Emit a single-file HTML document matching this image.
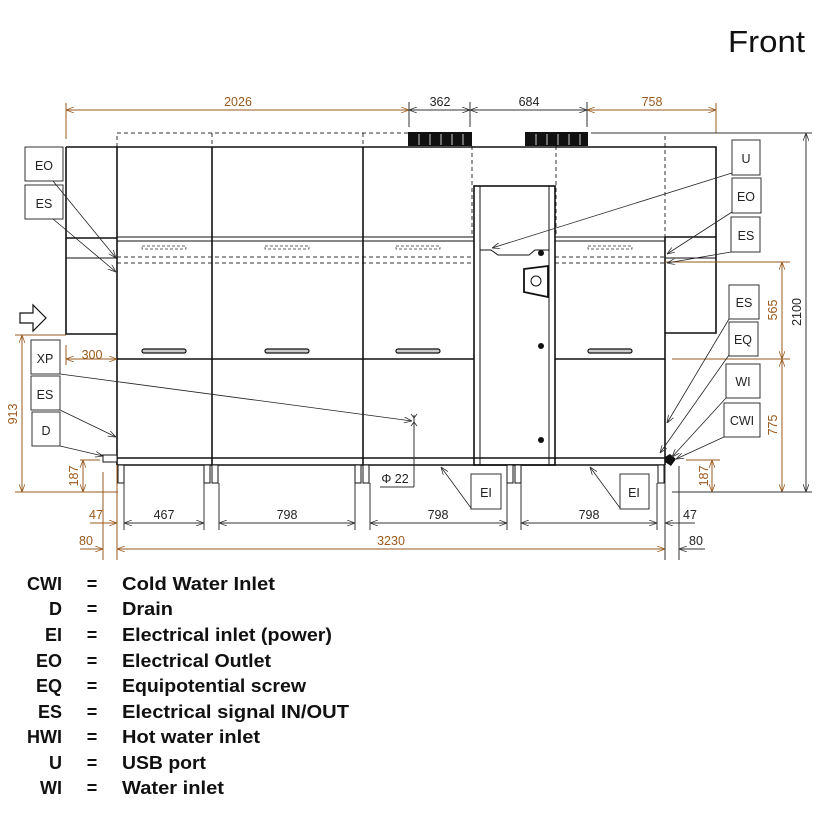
<!DOCTYPE html>
<html><head><meta charset="utf-8"><style>
html,body{margin:0;padding:0;background:#fff;width:817px;height:816px;overflow:hidden}
svg{display:block}
.d{font-family:"Liberation Sans",sans-serif;font-size:12.5px;fill:#222}
.b{fill:#9a5a1e}
.lg{font-family:"Liberation Sans",sans-serif;font-size:18px;font-weight:bold;fill:#111}
</style></head><body>
<svg width="817" height="816" viewBox="0 0 817 816" xmlns="http://www.w3.org/2000/svg">
<defs>
<marker id="a" markerWidth="8" markerHeight="6" refX="8" refY="3" orient="auto-start-reverse" markerUnits="userSpaceOnUse"><path d="M0,0 L8,3 L0,6" fill="none" stroke="#333" stroke-width="0.8"/></marker>
<marker id="ab" markerWidth="8" markerHeight="6" refX="8" refY="3" orient="auto-start-reverse" markerUnits="userSpaceOnUse"><path d="M0,0 L8,3 L0,6" fill="none" stroke="#9a5a1e" stroke-width="0.8"/></marker>
</defs>
<text x="728" y="52" font-family="Liberation Sans,sans-serif" font-size="31" fill="#111" textLength="77" lengthAdjust="spacingAndGlyphs">Front</text>

<g stroke="#9a5a1e" stroke-width="1" fill="none">
<line x1="66" y1="103" x2="66" y2="139"/>
<line x1="66" y1="110" x2="409" y2="110" marker-start="url(#ab)" marker-end="url(#ab)"/>
<line x1="587" y1="110" x2="716" y2="110" marker-start="url(#ab)" marker-end="url(#ab)"/>
<line x1="716" y1="103" x2="716" y2="133"/>
</g>
<g stroke="#333" stroke-width="1" fill="none">
<line x1="409" y1="102" x2="409" y2="127"/><line x1="470" y1="102" x2="470" y2="127"/><line x1="587" y1="102" x2="587" y2="127"/>
<line x1="409" y1="110" x2="470" y2="110" marker-start="url(#a)" marker-end="url(#a)"/>
<line x1="470" y1="110" x2="587" y2="110" marker-start="url(#a)" marker-end="url(#a)"/>
</g>
<text class="d b" x="238" y="106" text-anchor="middle">2026</text>
<text class="d" x="440" y="106" text-anchor="middle">362</text>
<text class="d" x="529" y="106" text-anchor="middle">684</text>
<text class="d b" x="652" y="106" text-anchor="middle">758</text>

<g stroke="#333" stroke-width="1" fill="none" stroke-dasharray="4,3">
<path d="M117,147 V133 H408"/><line x1="212" y1="133" x2="212" y2="147"/><line x1="363" y1="133" x2="363" y2="147"/>
<line x1="472" y1="146" x2="472" y2="237"/><line x1="556" y1="146" x2="556" y2="237"/>
<path d="M591,133 H665 V237"/>
<line x1="117" y1="257" x2="474" y2="257"/><line x1="117" y1="263" x2="474" y2="263"/>
<line x1="555" y1="257" x2="665" y2="257"/><line x1="555" y1="263" x2="665" y2="263"/>
</g>
<line x1="591" y1="133" x2="812" y2="133" stroke="#333"/>
<g fill="#111"><rect x="408" y="132" width="64" height="14"/><rect x="525" y="132" width="63" height="14"/></g>
<g stroke="#fff" stroke-width="0.8"><path d="M419,134v11M430,134v11M441,134v11M452,134v11M463,134v11M536,134v11M547,134v11M558,134v11M569,134v11M580,134v11"/></g>

<g stroke="#111" stroke-width="1.6" fill="none">
<path d="M66,147 H716 V237"/>
<path d="M66,147 V334 H117"/>
<line x1="66" y1="238" x2="117" y2="238"/>
<line x1="117" y1="147" x2="117" y2="465"/>
<line x1="212" y1="147" x2="212" y2="465"/>
<line x1="363" y1="147" x2="363" y2="465"/>
<line x1="665" y1="237" x2="665" y2="465"/>
<rect x="474" y="186" width="81" height="279"/>
<path d="M665,237 H716 V333 H665"/>
<line x1="117" y1="359" x2="474" y2="359"/><line x1="555" y1="359" x2="665" y2="359"/>
<line x1="117" y1="458" x2="665" y2="458"/><line x1="117" y1="465" x2="665" y2="465"/>
</g>
<line x1="66" y1="258" x2="117" y2="258" stroke="#111"/>
<line x1="665" y1="258" x2="716" y2="258" stroke="#111"/>
<g stroke="#111" stroke-width="1">
<line x1="117" y1="237" x2="474" y2="237"/><line x1="117" y1="241" x2="474" y2="241"/>
<line x1="555" y1="237" x2="665" y2="237"/><line x1="555" y1="241" x2="665" y2="241"/>
<line x1="480" y1="186" x2="480" y2="465"/><line x1="549" y1="186" x2="549" y2="465"/>
<path d="M480,250 H491 L498,255 H529 L535,250 H549" fill="none"/>
</g>
<circle cx="541" cy="253" r="3" fill="#111"/>
<circle cx="541" cy="346" r="3" fill="#111"/>
<circle cx="541" cy="440" r="3" fill="#111"/>
<path d="M524,269 L548,266 L548,297 L524,292 Z" fill="#fff" stroke="#111" stroke-width="1.8"/>
<circle cx="536" cy="281" r="5" fill="none" stroke="#111"/>
<g stroke="#333" stroke-width="0.7" fill="none" stroke-dasharray="3,2">
<rect x="142" y="246" width="44" height="3"/><rect x="265" y="246" width="44" height="3"/><rect x="396" y="246" width="44" height="3"/><rect x="588" y="246" width="44" height="3"/>
</g>
<g fill="#ccc" stroke="#111" stroke-width="1.2">
<rect x="142" y="349" width="44" height="4" rx="2"/><rect x="265" y="349" width="44" height="4" rx="2"/><rect x="396" y="349" width="44" height="4" rx="2"/><rect x="588" y="349" width="44" height="4" rx="2"/>
</g>
<g fill="#fff" stroke="#111" stroke-width="1">
<rect x="118" y="465" width="6" height="18"/><rect x="204" y="465" width="6" height="18"/><rect x="212" y="465" width="6" height="18"/><rect x="355" y="465" width="6" height="18"/><rect x="363" y="465" width="6" height="18"/><rect x="507" y="465" width="6" height="18"/><rect x="515" y="465" width="6" height="18"/><rect x="658" y="465" width="6" height="18"/>
</g>
<path d="M100,455 H117 V462 H103 V455" fill="#fff" stroke="#111"/>
<path d="M665,457 l5,-3 l6,5 l-5,7 l-6,-4z" fill="#111"/>

<path d="M20,313 H33 V305 L46,318 L33,331 V323 H20 Z" fill="#fff" stroke="#111" stroke-width="1.2"/>

<g stroke="#9a5a1e" stroke-width="1" fill="none">
<line x1="15" y1="335" x2="66" y2="335"/>
<line x1="22" y1="335" x2="22" y2="492" marker-start="url(#ab)" marker-end="url(#ab)"/>
<line x1="15" y1="492" x2="118" y2="492"/>
<line x1="80" y1="460" x2="100" y2="460"/>
<line x1="83" y1="460" x2="83" y2="492" marker-start="url(#ab)" marker-end="url(#ab)"/>
<line x1="66" y1="345" x2="66" y2="365"/>
<line x1="66" y1="359" x2="117" y2="359" marker-start="url(#ab)" marker-end="url(#ab)"/>
<line x1="117" y1="465" x2="117" y2="560"/>
<line x1="103" y1="472" x2="103" y2="560"/>
<line x1="80" y1="549" x2="103" y2="549" marker-end="url(#ab)"/>
<line x1="117" y1="549" x2="665" y2="549" marker-start="url(#ab)" marker-end="url(#ab)"/>
<line x1="90" y1="523" x2="117" y2="523" marker-end="url(#ab)"/>
<line x1="665" y1="262" x2="790" y2="262"/>
<line x1="672" y1="359" x2="790" y2="359"/>
<line x1="782" y1="262" x2="782" y2="359" marker-start="url(#ab)" marker-end="url(#ab)"/>
<line x1="782" y1="359" x2="782" y2="492" marker-start="url(#ab)" marker-end="url(#ab)"/>
<line x1="686" y1="460" x2="720" y2="460"/>
<line x1="712" y1="460" x2="712" y2="492" marker-start="url(#ab)" marker-end="url(#ab)"/>
</g>
<g stroke="#333" stroke-width="1" fill="none">
<line x1="672" y1="492" x2="812" y2="492"/>
<line x1="806" y1="133" x2="806" y2="492" marker-start="url(#a)" marker-end="url(#a)"/>
<line x1="124" y1="483" x2="124" y2="530"/><line x1="204" y1="483" x2="204" y2="530"/>
<line x1="219" y1="483" x2="219" y2="530"/><line x1="355" y1="483" x2="355" y2="530"/>
<line x1="370" y1="483" x2="370" y2="530"/><line x1="507" y1="483" x2="507" y2="530"/>
<line x1="521" y1="483" x2="521" y2="530"/><line x1="657" y1="483" x2="657" y2="530"/>
<line x1="665" y1="465" x2="665" y2="560"/><line x1="679" y1="466" x2="679" y2="560"/>
<line x1="124" y1="523" x2="204" y2="523" marker-start="url(#a)" marker-end="url(#a)"/>
<line x1="219" y1="523" x2="355" y2="523" marker-start="url(#a)" marker-end="url(#a)"/>
<line x1="370" y1="523" x2="507" y2="523" marker-start="url(#a)" marker-end="url(#a)"/>
<line x1="521" y1="523" x2="657" y2="523" marker-start="url(#a)" marker-end="url(#a)"/>
<line x1="695" y1="523" x2="665" y2="523" marker-end="url(#a)"/>
<line x1="705" y1="549" x2="679" y2="549" marker-end="url(#a)"/>
<line x1="414" y1="415" x2="414" y2="487"/>
<line x1="380" y1="487" x2="414" y2="487"/>
</g>
<text class="d b" x="92" y="359" text-anchor="middle">300</text>
<text class="d b" transform="translate(17,414) rotate(-90)" text-anchor="middle">913</text>
<text class="d b" transform="translate(78,476) rotate(-90)" text-anchor="middle">187</text>
<text class="d b" transform="translate(777,310) rotate(-90)" text-anchor="middle">565</text>
<text class="d b" transform="translate(777,425) rotate(-90)" text-anchor="middle">775</text>
<text class="d" transform="translate(801,312) rotate(-90)" text-anchor="middle">2100</text>
<text class="d b" transform="translate(708,476) rotate(-90)" text-anchor="middle">187</text>
<text class="d b" x="96" y="519" text-anchor="middle">47</text>
<text class="d b" x="86" y="545" text-anchor="middle">80</text>
<text class="d" x="164" y="519" text-anchor="middle">467</text>
<text class="d" x="287" y="519" text-anchor="middle">798</text>
<text class="d" x="438" y="519" text-anchor="middle">798</text>
<text class="d" x="589" y="519" text-anchor="middle">798</text>
<text class="d b" x="391" y="545" text-anchor="middle">3230</text>
<text class="d" x="690" y="519" text-anchor="middle">47</text>
<text class="d" x="696" y="545" text-anchor="middle">80</text>
<text class="d" x="395" y="483" text-anchor="middle">Φ 22</text>

<g fill="#fff" stroke="#333" stroke-width="1">
<rect x="25" y="147" width="38" height="34"/><rect x="25" y="185" width="38" height="34"/>
<rect x="31" y="340" width="29" height="34"/><rect x="31" y="376" width="29" height="34"/><rect x="32" y="412" width="28" height="34"/>
<rect x="732" y="140" width="28" height="35"/><rect x="732" y="178" width="29" height="35"/><rect x="731" y="217" width="29" height="35"/>
<rect x="729" y="285" width="30" height="34"/><rect x="729" y="322" width="29" height="34"/><rect x="726" y="364" width="34" height="34"/><rect x="724" y="403" width="36" height="34"/>
<rect x="471" y="474" width="30" height="35"/><rect x="620" y="474" width="29" height="35"/>
</g>
<g class="d" text-anchor="middle" font-size="14">
<text x="44" y="170">EO</text><text x="44" y="208">ES</text>
<text x="45" y="363">XP</text><text x="45" y="399">ES</text><text x="46" y="435">D</text>
<text x="746" y="163">U</text><text x="746" y="201">EO</text><text x="746" y="240">ES</text>
<text x="744" y="307">ES</text><text x="743" y="344">EQ</text><text x="743" y="386">WI</text><text x="742" y="425">CWI</text>
<text x="486" y="497">EI</text><text x="634" y="497">EI</text>
</g>
<g stroke="#222" stroke-width="0.8" fill="none">
<line x1="53" y1="181" x2="116" y2="258" marker-end="url(#a)"/>
<line x1="53" y1="219" x2="116" y2="272" marker-end="url(#a)"/>
<line x1="60" y1="374" x2="412" y2="421" marker-end="url(#a)"/>
<line x1="60" y1="410" x2="116" y2="437" marker-end="url(#a)"/>
<line x1="60" y1="446" x2="103" y2="456" marker-end="url(#a)"/>
<line x1="732" y1="173" x2="492" y2="248" marker-end="url(#a)"/>
<line x1="732" y1="212" x2="667" y2="254" marker-end="url(#a)"/>
<line x1="731" y1="252" x2="667" y2="263" marker-end="url(#a)"/>
<line x1="729" y1="319" x2="667" y2="423" marker-end="url(#a)"/>
<line x1="729" y1="355" x2="660" y2="453" marker-end="url(#a)"/>
<line x1="726" y1="398" x2="672" y2="457" marker-end="url(#a)"/>
<line x1="724" y1="437" x2="676" y2="459" marker-end="url(#a)"/>
<line x1="471" y1="508" x2="441" y2="467" marker-end="url(#a)"/>
<line x1="620" y1="508" x2="590" y2="467" marker-end="url(#a)"/>
</g>
<path d="M411,414 l3,4 l3,-4 M411,426 l3,-4 l3,4" stroke="#222" fill="none" stroke-width="0.8"/>

<g class="lg">
<text x="62" y="590" text-anchor="end">CWI</text><text x="92" y="590" text-anchor="middle">=</text><text x="122" y="590" textLength="153" lengthAdjust="spacingAndGlyphs">Cold Water Inlet</text>
<text x="62" y="615" text-anchor="end">D</text><text x="92" y="615" text-anchor="middle">=</text><text x="122" y="615" textLength="51" lengthAdjust="spacingAndGlyphs">Drain</text>
<text x="62" y="641" text-anchor="end">EI</text><text x="92" y="641" text-anchor="middle">=</text><text x="122" y="641" textLength="210" lengthAdjust="spacingAndGlyphs">Electrical inlet (power)</text>
<text x="62" y="667" text-anchor="end">EO</text><text x="92" y="667" text-anchor="middle">=</text><text x="122" y="667" textLength="149" lengthAdjust="spacingAndGlyphs">Electrical Outlet</text>
<text x="62" y="692" text-anchor="end">EQ</text><text x="92" y="692" text-anchor="middle">=</text><text x="122" y="692" textLength="184" lengthAdjust="spacingAndGlyphs">Equipotential screw</text>
<text x="62" y="718" text-anchor="end">ES</text><text x="92" y="718" text-anchor="middle">=</text><text x="122" y="718" textLength="227" lengthAdjust="spacingAndGlyphs">Electrical signal IN/OUT</text>
<text x="62" y="743" text-anchor="end">HWI</text><text x="92" y="743" text-anchor="middle">=</text><text x="122" y="743" textLength="138" lengthAdjust="spacingAndGlyphs">Hot water inlet</text>
<text x="62" y="769" text-anchor="end">U</text><text x="92" y="769" text-anchor="middle">=</text><text x="122" y="769" textLength="84" lengthAdjust="spacingAndGlyphs">USB port</text>
<text x="62" y="794" text-anchor="end">WI</text><text x="92" y="794" text-anchor="middle">=</text><text x="122" y="794" textLength="102" lengthAdjust="spacingAndGlyphs">Water inlet</text>
</g>
</svg>
</body></html>
